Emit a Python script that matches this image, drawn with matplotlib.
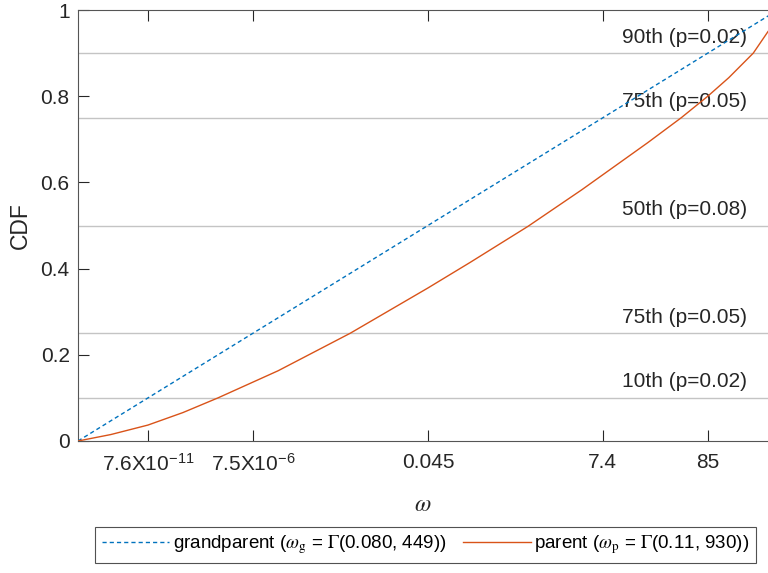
import numpy as np
import matplotlib
matplotlib.use("Agg")
from matplotlib import pyplot as plt

plt.rcParams['font.family'] = ['Liberation Sans', 'DejaVu Sans']
plt.rcParams['mathtext.fontset'] = 'stix'

# x axis is the grandparent quantile; tick labels are the omega values there
tick_q = [0.1, 0.25, 0.5, 0.75, 0.9]
tick_lbl = [r'7.6X10$^{\mathregular{-11}}$', r'7.5X10$^{\mathregular{-6}}$',
            '0.045', '7.4', '85']

# grandparent CDF (straight line in this scale)
gp_q = [0.0, 1.0]
gp_cdf = [0.0, 1.0]

# parent CDF
par_q = [0.0, 0.047, 0.1, 0.15, 0.2, 0.286, 0.389, 0.5, 0.56, 0.643,
         0.72, 0.814, 0.862, 0.9, 0.93, 0.965, 0.986]
par_cdf = [0.0, 0.015, 0.037, 0.066, 0.1, 0.163, 0.25, 0.355, 0.414, 0.498,
           0.583, 0.692, 0.75, 0.8, 0.843, 0.9, 0.95]

# percentile reference lines and their labels
pct_lvl = [0.9, 0.75, 0.5, 0.25, 0.1]
pct_lbl = ['90th (p=0.02)', '75th (p=0.05)', '50th (p=0.08)',
           '75th (p=0.05)', '10th (p=0.02)']

blue = '#0072BD'
red = '#D95319'
axc = '#262626'

fig = plt.figure(figsize=(7.68, 5.73), dpi=100)
ax = fig.add_axes([78 / 768, 1 - 441 / 573, 1 - 78 / 768, 431 / 573])

for lv, lb in zip(pct_lvl, pct_lbl):
    ax.axhline(lv, color='#c4c4c4', lw=1.0, zorder=1)
    ax.text(0.778, lv + 0.037, lb, ha='left', va='center', fontsize=15,
            color=axc, zorder=2)

ax.plot(gp_q, gp_cdf, color=blue, lw=1.0, ls=(0, (3, 2.2)), zorder=3,
        label=r'grandparent ($\omega_{\rm g}$ = $\Gamma$(0.080, 449))')
ax.plot(par_q, par_cdf, color=red, lw=1.0, zorder=3,
        label=r'parent ($\omega_{\rm p}$ = $\Gamma$(0.11, 930))')

ax.set_xlim(0, 0.986)
ax.set_ylim(0, 1)
ax.set_xticks(tick_q)
ax.set_xticklabels(tick_lbl)
ax.set_yticks([0, 0.2, 0.4, 0.6, 0.8, 1])
ax.set_yticklabels(['0', '0.2', '0.4', '0.6', '0.8', '1'])
ax.tick_params(axis='x', direction='in', length=8, width=0.8, pad=9,
               labelsize=15, colors=axc, top=True)
ax.tick_params(axis='y', direction='in', length=8, width=0.8, pad=6,
               labelsize=15, colors=axc)
for s in ['left', 'bottom', 'top']:
    ax.spines[s].set_color('#555555')
    ax.spines[s].set_linewidth(0.8)
ax.spines['right'].set_visible(False)

ax.set_ylabel('CDF', fontsize=16.5, color=axc, labelpad=6)
ax.set_xlabel(r'$\omega$', fontsize=17, color=axc, labelpad=14)

leg = fig.legend(loc='upper center', bbox_to_anchor=(425.5 / 768, 1 - 527 / 573),
                 ncol=2, fontsize=13.5, frameon=True, fancybox=False,
                 handlelength=3.6, handletextpad=0.2, columnspacing=0.9,
                 borderpad=0.35, borderaxespad=0)
leg.get_frame().set_edgecolor('#262626')
leg.get_frame().set_linewidth(0.8)

plt.savefig('out.png', dpi=100)
